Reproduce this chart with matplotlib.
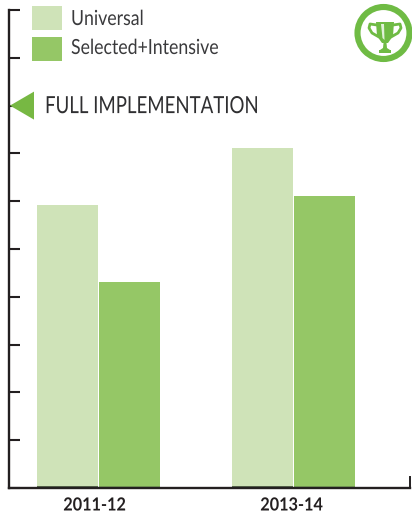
import matplotlib
matplotlib.use("Agg")
import matplotlib.pyplot as plt
from matplotlib.patches import Circle, Polygon, Rectangle
from matplotlib.patheffects import AbstractPathEffect
from matplotlib.transforms import Affine2D

years = ["2011-12", "2013-14"]
universal = [5.92, 7.11]
selected = [4.31, 6.11]
target = 8
legend_names = ["Universal", "Selected+Intensive"]
target_label = "FULL IMPLEMENTATION"

LIGHT = "#cfe3b8"
GREEN = "#95c766"
DARK = "#231f20"
ICON = "#6fbb44"
FONT = "Lato"

W, H = 412, 516


class Squeeze(AbstractPathEffect):
    # no condensed font installed, so narrow the glyphs around an anchor pixel
    def __init__(self, x0, sx):
        super().__init__()
        self.x0 = x0
        self.sx = sx

    def draw_path(self, renderer, gc, tpath, affine, rgbFace=None):
        t = affine + Affine2D().translate(-self.x0, 0).scale(self.sx, 1).translate(self.x0, 0)
        renderer.draw_path(gc, tpath, t, rgbFace)


fig = plt.figure(figsize=(W / 100, H / 100), dpi=100)

# main axes, placed to the pixel
ax = fig.add_axes([8.5 / W, 1 - 488 / H, 401 / W, 478 / H])
bw = 62 / 195
for i in range(len(years)):
    ax.bar(i - bw / 2, universal[i], bw * 0.98, color=LIGHT)
    ax.bar(i + bw / 2, selected[i], bw * 0.98, color=GREEN)
    ax.bar(i - bw / 2, 0.05, bw * 0.98, color="#5c6b50")
    ax.bar(i + bw / 2, 0.05, bw * 0.98, color="#7fa85c")

ax.set_xlim(-90 / 195, 311 / 195)
ax.set_ylim(0, 10)
ax.set_yticks(range(0, 11))
ax.set_yticklabels([])
ax.set_xticks([])
ax.tick_params(axis="y", direction="in", length=8, width=1.5, color=DARK)
for s in ["top", "right"]:
    ax.spines[s].set_visible(False)
for s in ["left", "bottom"]:
    ax.spines[s].set_linewidth(1.7)
    ax.spines[s].set_color(DARK)
ax.plot([1, 1], [0, 0.23], color=DARK, lw=1.4, transform=ax.get_yaxis_transform(), clip_on=False)

# overlay in pixel coordinates for labels, legend, marker, icon
ov = fig.add_axes([0, 0, 1, 1], facecolor="none")
ov.set_xlim(0, W)
ov.set_ylim(H, 0)
ov.axis("off")


def put(x, y, s, size, sx, color, weight="normal", ha="left"):
    t = ov.text(x, y, s, fontsize=size, color=color, va="center", ha=ha, family=FONT, fontweight=weight)
    px = ov.transData.transform((x, y))[0]
    t.set_path_effects([Squeeze(px, sx)])


for i, yr in enumerate(years):
    put(94.5 + 197 * i, 505, yr, 13, 0.9, DARK, "bold", "center")

ov.add_patch(Rectangle((32, 6), 30, 24, color=LIGHT, lw=0))
ov.add_patch(Rectangle((32, 37), 30, 24, color=GREEN, lw=0))
put(71, 19, legend_names[0], 15, 0.85, "#3a3a3c")
put(71, 48, legend_names[1], 15, 0.85, "#3a3a3c")

y_t = 488 - target * 47.8
ov.add_patch(Polygon([(10, y_t), (34, y_t - 14), (34, y_t + 14)], color="#77b843", lw=0))
put(45, y_t + 1, target_label, 17, 0.79, "#2f2f31")

ov.add_patch(Circle((383.5, 33), 26, fc="white", ec=ICON, lw=4.4))
ov.add_patch(Polygon([(376, 22), (394, 22), (393, 36), (388, 43), (382, 43), (377, 36)], color=ICON, lw=0))
ov.add_patch(Polygon([(381, 24), (384, 24), (384.5, 40), (382.5, 38)], color="white", lw=0, alpha=0.8))
ov.plot([377, 370, 369, 372, 379], [25, 24, 28, 33, 37], color=ICON, lw=2, solid_capstyle="round")
ov.plot([393, 400, 401, 398, 391], [25, 24, 28, 33, 37], color=ICON, lw=2, solid_capstyle="round")
ov.add_patch(Polygon([(383.5, 43), (386.5, 43), (387, 48), (390, 50), (380, 50), (383, 48)], color=ICON, lw=0))
ov.add_patch(Rectangle((379, 50), 12, 2.5, color=ICON, lw=0))

fig.savefig("out.png", dpi=100)
